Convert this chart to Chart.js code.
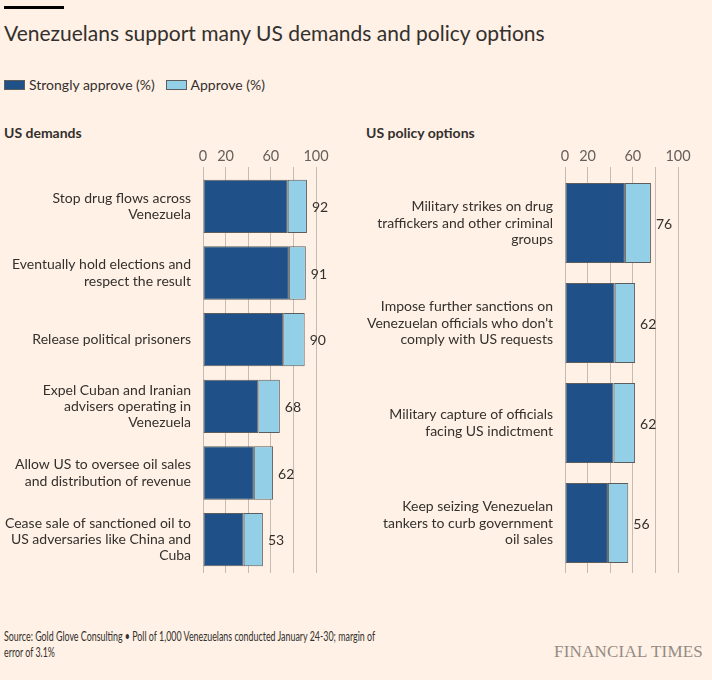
<!DOCTYPE html>
<html>
<head>
<meta charset="utf-8">
<script src="https://cdn.jsdelivr.net/npm/chart.js@4"></script>
<style>
  body { margin: 0; background: #fff1e5; font-family: Lato, sans-serif; color: #33302e; }
  .page { position: relative; width: 712px; height: 680px; overflow: hidden; }
  .abs { position: absolute; }
  .rule { left: 4px; top: 6px; width: 60px; height: 3px; background: #000; }
  .title { left: 4px; top: 20px; font-size: 21px; white-space: nowrap; }
  .legend { left: 4px; top: 76px; font-size: 14px; white-space: nowrap; }
  .legend span.sw { display: inline-block; width: 19px; height: 8px; border: 1px solid #5d5d5d; vertical-align: middle; margin-right: 4px; position: relative; top: -1px; }
  .sub { top: 124px; font-size: 14px; font-weight: bold; }
  .src { left: 4px; top: 629px; font-family: Lato, sans-serif; font-size: 12.5px; line-height: 16px; white-space: nowrap; transform: scaleX(0.71); transform-origin: 0 0; }
  .ft { right: 9px; top: 642px; font-family: "Liberation Serif", serif; font-size: 17px; color: #948b84; letter-spacing: 0.2px; }
  .box { top: 140px; width: 356px; height: 440px; }
</style>
</head>
<body>
<div class="page">
  <div class="abs rule"></div>
  <div class="abs title">Venezuelans support many US demands and policy options</div>
  <div class="abs legend">
    <span class="sw" style="background:#1f5188"></span>Strongly approve (%)&nbsp;&nbsp;
    <span class="sw" style="background:#93d0e8"></span>Approve (%)
  </div>
  <div class="abs sub" style="left:4px">US demands</div>
  <div class="abs sub" style="left:366px">US policy options</div>
  <div class="abs box" style="left:0"><canvas id="demands" width="356" height="440"></canvas></div>
  <div class="abs box" style="left:356px"><canvas id="policy" width="356" height="440"></canvas></div>
  <div class="abs src">Source: Gold Glove Consulting &bull; Poll of 1,000 Venezuelans conducted January 24-30; margin of<br>error of 3.1%</div>
  <div class="abs ft">FINANCIAL TIMES</div>
</div>
<script>
const demandLabels = [
  ["Stop drug flows across", "Venezuela"],
  ["Eventually hold elections and", "respect the result"],
  ["Release political prisoners"],
  ["Expel Cuban and Iranian", "advisers operating in", "Venezuela"],
  ["Allow US to oversee oil sales", "and distribution of revenue"],
  ["Cease sale of sanctioned oil to", "US adversaries like China and", "Cuba"]
];
const demandStrong = [75, 76, 71, 49, 45, 36];
const demandApprove = [17, 15, 19, 19, 17, 17];
const demandTotal = [92, 91, 90, 68, 62, 53];

const policyLabels = [
  ["Military strikes on drug", "traffickers and other criminal", "groups"],
  ["Impose further sanctions on", "Venezuelan officials who don't", "comply with US requests"],
  ["Military capture of officials", "facing US indictment"],
  ["Keep seizing Venezuelan", "tankers to curb government", "oil sales"]
];
const policyStrong = [53, 44, 43, 38];
const policyApprove = [23, 18, 19, 18];
const policyTotal = [76, 62, 62, 56];

const xTicks = [0, 20, 40, 60, 80, 100];
const xTickLabels = ["0", "20", "", "60", "", "100"];

// total printed just past the end of each stacked bar
const totalsPlugin = {
  id: "totals",
  afterDatasetsDraw(chart, args, opts) {
    const ctx = chart.ctx;
    const meta = chart.getDatasetMeta(1);
    ctx.save();
    ctx.font = "14px Lato";
    ctx.fillStyle = "#33302e";
    ctx.textAlign = "left";
    ctx.textBaseline = "middle";
    meta.data.forEach((bar, i) => {
      ctx.fillText(opts.values[i], bar.x + 5, bar.y + 1);
    });
    ctx.restore();
  }
};

function makeChart(id, labels, strong, approve, totals, axisWidth, padRight) {
  new Chart(document.getElementById(id), {
    type: "bar",
    data: {
      labels: labels,
      datasets: [
        { label: "Strongly approve (%)", data: strong, backgroundColor: "#1f5188" },
        { label: "Approve (%)", data: approve, backgroundColor: "#93d0e8" }
      ]
    },
    options: {
      indexAxis: "y",
      responsive: false,
      animation: false,
      devicePixelRatio: 1,
      layout: { padding: { top: 0, bottom: 7, left: 0, right: padRight } },
      datasets: {
        bar: {
          barPercentage: 1,
          categoryPercentage: 0.8,
          borderColor: "#5d5d5d",
          borderWidth: 1,
          borderSkipped: false
        }
      },
      scales: {
        x: {
          position: "top",
          stacked: true,
          min: 0,
          max: 100,
          afterBuildTicks: (s) => { s.ticks = xTicks.map((v) => ({ value: v })); },
          afterFit: (s) => { s.height = 33; s.paddingLeft = 0; s.paddingRight = 0; },
          ticks: {
            callback: (v) => xTickLabels[xTicks.indexOf(v)],
            font: { family: "Lato", size: 14.5 },
            color: "#66605c",
            padding: 2,
            maxRotation: 0,
            autoSkip: false
          },
          grid: { color: "#c4bbb2", tickLength: 6 },
          border: { display: false }
        },
        y: {
          stacked: true,
          afterFit: (s) => { s.width = axisWidth; s.paddingTop = 0; s.paddingBottom = 0; },
          ticks: {
            font: { family: "Lato", size: 14, lineHeight: 1.15 },
            color: "#33302e",
            padding: 12
          },
          grid: { display: false, drawTicks: false },
          border: { display: false }
        }
      },
      plugins: {
        legend: { display: false },
        tooltip: { enabled: false },
        totals: { values: totals }
      }
    },
    plugins: [totalsPlugin]
  });
}

makeChart("demands", demandLabels, demandStrong, demandApprove, demandTotal, 203, 40);
makeChart("policy", policyLabels, policyStrong, policyApprove, policyTotal, 209, 34);
</script>
</body>
</html>
